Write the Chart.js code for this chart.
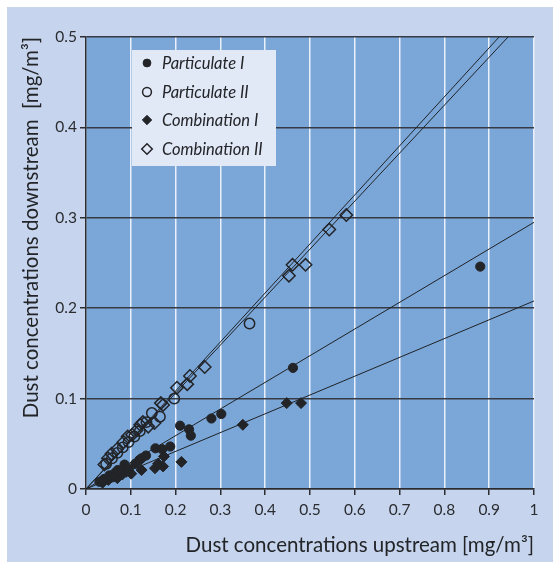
<!DOCTYPE html>
<html>
<head>
<meta charset="utf-8">
<script src="https://cdn.jsdelivr.net/npm/chart.js@4/dist/chart.umd.min.js"></script>
<style>
  html, body { margin: 0; padding: 0; background: #ffffff; }
  #wrap { position: relative; width: 560px; height: 571px; }
  canvas { display: block; }
</style>
</head>
<body>
<div id="wrap"><canvas id="c" width="560" height="571"></canvas></div>
<script>
// ---- Data ----
const seriesLabels = ['Particulate I', 'Particulate II', 'Combination I', 'Combination II'];

const particulate1X = [0.030,0.040,0.052,0.060,0.071,0.080,0.086,0.095,0.110,0.119,0.124,0.134,0.155,0.170,0.188,0.210,0.230,0.234,0.280,0.302,0.462,0.880];
const particulate1Y = [0.008,0.011,0.015,0.013,0.021,0.020,0.027,0.022,0.028,0.032,0.034,0.037,0.045,0.044,0.047,0.070,0.066,0.059,0.078,0.083,0.134,0.246];

const particulate2X = [0.045,0.058,0.070,0.082,0.095,0.108,0.120,0.135,0.147,0.165,0.197,0.365];
const particulate2Y = [0.028,0.034,0.040,0.046,0.052,0.058,0.064,0.074,0.084,0.080,0.100,0.183];

const combination1X = [0.037,0.050,0.061,0.070,0.081,0.090,0.101,0.124,0.154,0.161,0.172,0.174,0.213,0.350,0.448,0.480];
const combination1Y = [0.007,0.010,0.017,0.012,0.016,0.019,0.017,0.021,0.023,0.028,0.025,0.036,0.030,0.071,0.095,0.095];

const combination2X = [0.041,0.049,0.057,0.069,0.084,0.093,0.103,0.113,0.121,0.127,0.139,0.153,0.167,0.172,0.203,0.226,0.232,0.265,0.453,0.461,0.490,0.543,0.581];
const combination2Y = [0.027,0.034,0.039,0.044,0.052,0.058,0.060,0.065,0.071,0.074,0.069,0.073,0.095,0.093,0.112,0.116,0.125,0.135,0.236,0.248,0.248,0.287,0.303];

// Regression lines (end points)
const fitP2X = [0, 0.922], fitP2Y = [0, 0.5];
const fitC2X = [0, 0.942], fitC2Y = [0, 0.5];
const fitP1X = [0, 1.0],   fitP1Y = [0, 0.295];
const fitC1X = [0, 1.0],   fitC1Y = [0, 0.208];

const xTicks = [0,0.1,0.2,0.3,0.4,0.5,0.6,0.7,0.8,0.9,1];
const yTicks = [0,0.1,0.2,0.3,0.4,0.5];

const xTitle = 'Dust concentrations upstream [mg/m³]';
const yTitle = 'Dust concentrations downstream  [mg/m³]';

// ---- Build ----
const pts = (xs, ys) => xs.map((x, i) => ({ x: x, y: ys[i] }));
const INK = '#222428';
const FONT = 'Lato, "DejaVu Sans", sans-serif';

const markerStyles = [
  { pointStyle: 'circle',  radius: 4.6, fill: INK, border: INK, bw: 1 },
  { pointStyle: 'circle',  radius: 5.2, fill: 'rgba(0,0,0,0)', border: INK, bw: 1.5 },
  { pointStyle: 'rectRot', radius: 5.5, fill: INK, border: INK, bw: 1 },
  { pointStyle: 'rectRot', radius: 6.2, fill: 'rgba(0,0,0,0)', border: INK, bw: 1.5 }
];
const scatterData = [
  pts(particulate1X, particulate1Y),
  pts(particulate2X, particulate2Y),
  pts(combination1X, combination1Y),
  pts(combination2X, combination2Y)
];

const datasets = scatterData.map((d, i) => ({
  label: seriesLabels[i],
  data: d,
  showLine: false,
  pointStyle: markerStyles[i].pointStyle,
  pointRadius: markerStyles[i].radius,
  pointHoverRadius: markerStyles[i].radius,
  pointBackgroundColor: markerStyles[i].fill,
  pointBorderColor: markerStyles[i].border,
  pointBorderWidth: markerStyles[i].bw,
  backgroundColor: markerStyles[i].fill,
  borderColor: markerStyles[i].border
}));

[[fitP2X, fitP2Y], [fitC2X, fitC2Y], [fitP1X, fitP1Y], [fitC1X, fitC1Y]].forEach((f, i) => {
  datasets.push({
    label: 'fit' + i,
    data: pts(f[0], f[1]),
    showLine: true,
    pointRadius: 0,
    borderColor: '#1f2226',
    borderWidth: 1,
    fill: false
  });
});

const bgPlugin = {
  id: 'bg',
  beforeDraw(chart) {
    const ctx = chart.ctx, a = chart.chartArea;
    ctx.save();
    ctx.fillStyle = '#c6d5ed';
    ctx.fillRect(7, 7, 546, 555);
    ctx.fillStyle = '#7ba7d8';
    ctx.fillRect(a.left, a.top, a.right - a.left, a.bottom - a.top);
    ctx.restore();
  }
};

const legendPlugin = {
  id: 'customLegend',
  afterDatasetsDraw(chart) {
    const ctx = chart.ctx;
    ctx.save();
    ctx.fillStyle = '#e1e8f6';
    ctx.fillRect(132, 50, 144, 116);
    const rows = [63, 92, 120, 149];
    for (let i = 0; i < 4; i++) {
      const m = markerStyles[i];
      ctx.fillStyle = m.fill;
      ctx.strokeStyle = m.border;
      ctx.lineWidth = m.bw;
      Chart.helpers.drawPoint(ctx, { pointStyle: m.pointStyle, radius: m.radius * 0.85, borderWidth: m.bw }, 147, rows[i]);
      ctx.fillStyle = INK;
      ctx.font = 'italic 16.5px ' + FONT;
      ctx.textAlign = 'left';
      ctx.textBaseline = 'middle';
      ctx.fillText(seriesLabels[i], 162, rows[i] + 1);
    }
    ctx.restore();
  }
};

const fmt = v => {
  const r = Math.round(v * 10) / 10;
  return (r === 0 || r === 1) ? String(r) : r.toFixed(1);
};

new Chart(document.getElementById('c'), {
  type: 'scatter',
  data: { datasets: datasets },
  options: {
    responsive: false,
    devicePixelRatio: 1,
    animation: false,
    layout: { padding: { left: 0, right: 26, top: 37, bottom: 0 } },
    plugins: { legend: { display: false }, tooltip: { enabled: false } },
    scales: {
      x: {
        type: 'linear', min: 0, max: 1,
        afterBuildTicks: s => { s.ticks = xTicks.map(v => ({ value: v })); },
        afterFit: s => { s.height = 82; },
        ticks: { callback: v => fmt(v), color: '#2a2c30', font: { family: FONT, size: 15.5 }, padding: 6, maxRotation: 0, autoSkip: false },
        grid: { color: '#e9f0fa', lineWidth: 1.5, tickColor: '#2a2c30', tickLength: 6, drawTicks: true },
        border: { display: true, color: '#2a2c30', width: 1.5 },
        title: { display: true, text: xTitle, align: 'end', color: '#222428', font: { family: FONT, size: 20.5 }, padding: { top: 0, bottom: 13 } }
      },
      y: {
        type: 'linear', min: 0, max: 0.5,
        afterBuildTicks: s => { s.ticks = yTicks.map(v => ({ value: v })); },
        afterFit: s => { s.width = 86; },
        ticks: { callback: v => fmt(v), color: '#2a2c30', font: { family: FONT, size: 15.5 }, padding: 3 },
        grid: { color: '#363a42', lineWidth: 1.5, tickColor: '#2a2c30', tickLength: 6, drawTicks: true },
        border: { display: true, color: '#2a2c30', width: 1.5 },
        title: { display: true, text: yTitle, align: 'end', color: '#222428', font: { family: FONT, size: 20.5 }, padding: { top: 19, bottom: 0 } }
      }
    }
  },
  plugins: [bgPlugin, legendPlugin]
});
</script>
</body>
</html>
